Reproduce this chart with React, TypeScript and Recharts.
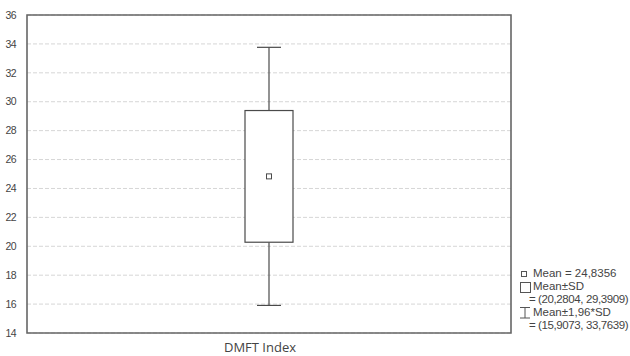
import React from 'react';
import { ComposedChart, Bar, XAxis, YAxis, CartesianGrid, ReferenceArea } from 'recharts';

const categories = ['DMFT Index'];
const meanValues = [24.8356];
const sdLow = [20.2804];
const sdHigh = [29.3909];
const ciLow = [15.9073];
const ciHigh = [33.7639];
const yTicks = [14, 16, 18, 20, 22, 24, 26, 28, 30, 32, 34, 36];
const legendLines = {
  mean: 'Mean = 24,8356',
  sd: 'Mean±SD',
  sdRange: '= (20,2804, 29,3909)',
  ci: 'Mean±1,96*SD',
  ciRange: '= (15,9073, 33,7639)',
};

const data = categories.map((name, i) => ({
  name,
  box: [sdLow[i], sdHigh[i]],
  mean: meanValues[i],
  sdLow: sdLow[i],
  sdHigh: sdHigh[i],
  ciLow: ciLow[i],
  ciHigh: ciHigh[i],
}));

const BoxShape = (props: any) => {
  const { x, y, width, height, payload } = props;
  const top = Math.min(y, y + height);
  const h = Math.abs(height);
  const k = h / (payload.sdHigh - payload.sdLow);
  const cx = x + width / 2;
  const yHi = top - (payload.ciHigh - payload.sdHigh) * k;
  const yLo = top + h + (payload.sdLow - payload.ciLow) * k;
  const yMean = top + (payload.sdHigh - payload.mean) * k;
  const cap = width / 4;
  const col = '#4a4a4a';
  return (
    <g>
      <line x1={cx} x2={cx} y1={yHi} y2={top} stroke={col} strokeWidth={1.2} />
      <line x1={cx - cap} x2={cx + cap} y1={yHi} y2={yHi} stroke={col} strokeWidth={1.2} />
      <line x1={cx} x2={cx} y1={top + h} y2={yLo} stroke={col} strokeWidth={1.2} />
      <line x1={cx - cap} x2={cx + cap} y1={yLo} y2={yLo} stroke={col} strokeWidth={1.2} />
      <rect x={x} y={top} width={width} height={h} fill="#fff" stroke={col} strokeWidth={1.2} />
      <rect x={cx - 2.5} y={yMean - 2.5} width={5} height={5} fill="#fff" stroke={col} strokeWidth={1} />
    </g>
  );
};

const LegendBlock = () => {
  const t: React.CSSProperties = { fontSize: 11.5, color: '#444', whiteSpace: 'nowrap', lineHeight: '13px', height: 13, position: 'relative' };
  return (
    <div style={{ position: 'absolute', left: 519, top: 267, width: 111, fontFamily: '"Liberation Sans", Arial, sans-serif' }}>
      <div style={t}>
        <span style={{ position: 'absolute', left: 2, top: 4, width: 4, height: 4, border: '1px solid #555' }} />
        <span style={{ position: 'absolute', left: 14 }}>{legendLines.mean}</span>
      </div>
      <div style={t}>
        <span style={{ position: 'absolute', left: 1, top: 2, width: 9, height: 9, border: '1px solid #555' }} />
        <span style={{ position: 'absolute', left: 14 }}>{legendLines.sd}</span>
      </div>
      <div style={t}>
        <span style={{ position: 'absolute', left: 10, letterSpacing: -0.4 }}>{legendLines.sdRange}</span>
      </div>
      <div style={t}>
        <svg style={{ position: 'absolute', left: 0, top: 0 }} width={12} height={13}>
          <line x1={1} x2={11} y1={1.5} y2={1.5} stroke="#555" />
          <line x1={6} x2={6} y1={1.5} y2={12} stroke="#555" />
          <line x1={1} x2={11} y1={12} y2={12} stroke="#555" />
        </svg>
        <span style={{ position: 'absolute', left: 14 }}>{legendLines.ci}</span>
      </div>
      <div style={t}>
        <span style={{ position: 'absolute', left: 10, letterSpacing: -0.4 }}>{legendLines.ciRange}</span>
      </div>
    </div>
  );
};

export default function App() {
  return (
    <div style={{ position: 'absolute', left: 0, top: 0, width: 630, height: 356, background: '#fff', overflow: 'hidden' }}>
      <ComposedChart width={630} height={356} data={data} margin={{ top: 15, right: 119, bottom: 0, left: 0 }}>
        <CartesianGrid vertical={false} stroke="#d6d6d6" strokeDasharray="4 2" />
        <XAxis
          dataKey="name"
          height={23}
          axisLine={false}
          tickLine={false}
          tick={{ fontSize: 13, fill: '#444', fontFamily: '"Open Sans", sans-serif', dx: -9 }}
          tickMargin={4}
        />
        <YAxis
          width={27}
          domain={[14, 36]}
          ticks={yTicks}
          interval={0}
          axisLine={false}
          tickLine={false}
          tickMargin={5}
          tick={{ fontSize: 10.5, fill: '#444', fontFamily: '"Liberation Sans", Arial, sans-serif', letterSpacing: -0.6 }}
        />
        <ReferenceArea y1={14} y2={36} fill="none" stroke="#666" strokeWidth={1.6} ifOverflow="visible" />
        <Bar dataKey="box" barSize={48} isAnimationActive={false} shape={BoxShape} />
      </ComposedChart>
      <LegendBlock />
    </div>
  );
}
